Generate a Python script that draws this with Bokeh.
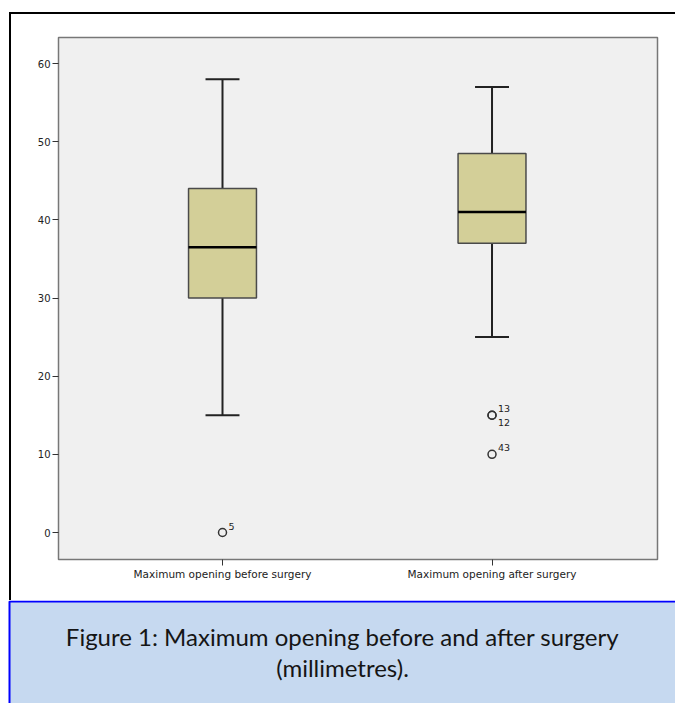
from bokeh.plotting import figure
from bokeh.layouts import column, row
from bokeh.models import FixedTicker, ColumnDataSource, Range1d, Spacer
from bokeh.core.properties import value
from bokeh.embed import file_html
from bokeh.resources import INLINE

categories = ["Maximum opening before surgery", "Maximum opening after surgery"]
whisker_low = [15, 25]
q1 = [30, 37]
median = [36.5, 41]
q3 = [44, 48.5]
whisker_high = [58, 57]
outlier_group = [0, 1, 1, 1]
outlier_values = [0, 15, 15, 10]
outlier_ids = ["5", "13", "12", "43"]
y_ticks = [0, 10, 20, 30, 40, 50, 60]
caption_lines = ["Figure 1: Maximum opening before and after surgery", "(millimetres)."]

xs = [i + 1 for i in range(len(categories))]
box_w = 0.252
cap_w = 0.126

p = figure(width=664, height=586, output_backend="svg", toolbar_location=None,
           x_range=Range1d(0.3915, 2.614), y_range=Range1d(-3.454, 63.33),
           min_border_left=47, min_border_top=23, min_border_right=18, min_border_bottom=41)
p.background_fill_color = "#f0f0f0"
p.border_fill_color = "white"
p.outline_line_color = "#777777"
p.outline_line_width = 1.5
p.xgrid.visible = False
p.ygrid.visible = False

src = ColumnDataSource(dict(x=xs, low=whisker_low, q1=q1, med=median, q3=q3, high=whisker_high,
                            xl=[x - box_w / 2 for x in xs], xr=[x + box_w / 2 for x in xs],
                            cl=[x - cap_w / 2 for x in xs], cr=[x + cap_w / 2 for x in xs]))

p.segment(x0="x", x1="x", y0="q3", y1="high", source=src, line_color="#222222", line_width=2)
p.segment(x0="x", x1="x", y0="low", y1="q1", source=src, line_color="#222222", line_width=2)
p.segment(x0="cl", x1="cr", y0="high", y1="high", source=src, line_color="#222222", line_width=2)
p.segment(x0="cl", x1="cr", y0="low", y1="low", source=src, line_color="#222222", line_width=2)
p.vbar(x="x", width=box_w, bottom="q1", top="q3", source=src,
       fill_color="#d3cf98", line_color="#4a4a4a", line_width=1.5)
p.segment(x0="xl", x1="xr", y0="med", y1="med", source=src, line_color="black", line_width=2.5)

ox = [xs[g] for g in outlier_group]
seen = set()
above_x, above_y, above_t, below_x, below_y, below_t = [], [], [], [], [], []
for x, v, t in zip(ox, outlier_values, outlier_ids):
    if (x, v) in seen:
        below_x.append(x); below_y.append(v); below_t.append(t)
    else:
        seen.add((x, v))
        above_x.append(x); above_y.append(v); above_t.append(t)

p.scatter(ox, outlier_values, marker="circle", size=8, fill_color=None,
          line_color="#333333", line_width=1.5)
p.text(above_x, above_y, text=above_t, x_offset=6, y_offset=-3, text_baseline="bottom",
       text_font=value("DejaVu Sans"), text_font_size="9.5px", text_color="#222222")
p.text(below_x, below_y, text=below_t, x_offset=6, y_offset=4, text_baseline="top",
       text_font=value("DejaVu Sans"), text_font_size="9.5px", text_color="#222222")

for ax in (p.xaxis, p.yaxis):
    ax.axis_line_color = None
    ax.major_tick_in = 0
    ax.major_tick_out = 6
    ax.minor_tick_line_color = None
    ax.major_tick_line_color = "#333333"
    ax.major_label_text_font = "DejaVu Sans"
    ax.major_label_text_color = "#222222"
    ax.major_label_standoff = 2
p.xaxis.major_label_text_font_size = "10.5px"
p.yaxis.major_label_text_font_size = "10px"

p.yaxis.ticker = FixedTicker(ticks=y_ticks)
p.xaxis.ticker = FixedTicker(ticks=xs)
p.xaxis.major_label_overrides = {x: c for x, c in zip(xs, categories)}

# caption panel (x to the right, y downward, in pixels of the panel)
cap = figure(width=675, height=103, output_backend="svg", toolbar_location=None,
             x_range=Range1d(0, 675), y_range=Range1d(103, 0),
             x_axis_type=None, y_axis_type=None,
             min_border_left=0, min_border_right=0, min_border_top=0, min_border_bottom=0)
cap.background_fill_color = "white"
cap.border_fill_color = "white"
cap.outline_line_color = None
cap.grid.visible = False
cap.quad(left=[9], right=[720], top=[1], bottom=[130], fill_color="#c6d9f0",
         line_color="#0000ff", line_width=2)
cap.text(x=[342, 342], y=[36, 67], text=caption_lines, text_align="center",
         text_baseline="middle", text_font=value("Lato"), text_font_size="24px",
         text_color="#151515")

black = {"background-color": "black"}
layout = column(
    Spacer(width=675, height=12),
    row(Spacer(width=9, height=2), Spacer(width=666, height=2, styles=black), spacing=0),
    row(Spacer(width=9, height=586), Spacer(width=2, height=586, styles=black), p, spacing=0),
    cap,
    spacing=0,
)

open("out.html", "w").write(file_html(layout, INLINE))
